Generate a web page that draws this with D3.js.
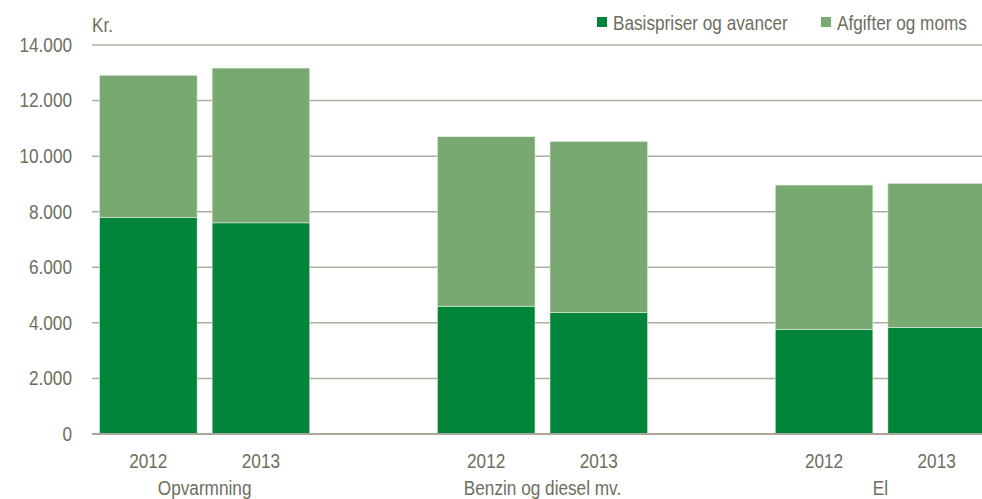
<!DOCTYPE html>
<html><head><meta charset="utf-8">
<script src="https://cdn.jsdelivr.net/npm/d3@7/dist/d3.min.js"></script>
<style>
html,body{margin:0;padding:0;background:#fff;}
text{font-family:"Liberation Sans",Arial,sans-serif;fill:#6e6e5e;}
</style></head>
<body><svg id="c" width="982" height="499"></svg>
<script>
const categories = ["Opvarmning", "Benzin og diesel mv.", "El"];
const years = ["2012", "2013"];
const basis = [7800, 7600, 4600, 4370, 3770, 3840];
const afgifter = [5110, 5570, 6100, 6160, 5190, 5180];
const seriesNames = ["Basispriser og avancer", "Afgifter og moms"];
const yTicks = [0, 2000, 4000, 6000, 8000, 10000, 12000, 14000];
const colors = ["#00853a", "#78a970"];

const svg = d3.select("#c");
const W = 982, H = 499;
const pLeft = 92, pRight = 993, pTop = 45, pBottom = 434;
const squeeze = 0.86;

// slots: each category has 2 years plus an empty spacer slot
const slots = [];
categories.forEach((c, ci) => {
  years.forEach(y => slots.push(c + "|" + y));
  if (ci < categories.length - 1) slots.push("gap" + ci);
});
const x = d3.scaleBand().domain(slots).range([pLeft, pRight]).paddingInner(0.133).paddingOuter(0.0665);
const y = d3.scaleLinear().domain([0, 14000]).range([pBottom, pTop]);

const loc = d3.formatLocale({decimal: ",", thousands: ".", grouping: [3], currency: ["", ""]});
const fmt = loc.format(",");

// gridlines
svg.append("g").selectAll("line").data(yTicks.filter(d => d > 0)).join("line")
  .attr("x1", pLeft).attr("x2", W).attr("y1", d => y(d)).attr("y2", d => y(d))
  .attr("stroke", "#b0ada0").attr("stroke-width", 1.5);

// y axis labels
const yAxis = svg.append("g").attr("transform", `translate(${pLeft},0)`)
  .call(d3.axisLeft(y).tickValues(yTicks).tickFormat(fmt).tickSize(0).tickPadding(20));
yAxis.select(".domain").remove();
yAxis.attr("font-family", null).attr("font-size", null);
yAxis.selectAll("text").style("font-size", "20px").attr("fill", null);

// data
const rows = [];
categories.forEach((c, ci) => years.forEach((yr, yi) => {
  const i = ci * 2 + yi;
  rows.push({key: c + "|" + yr, year: yr, cat: c, b: basis[i], a: afgifter[i]});
}));
const stack = d3.stack().keys(["b", "a"])(rows);

svg.append("g").selectAll("g").data(stack).join("g")
  .attr("fill", (d, i) => colors[i])
  .selectAll("rect").data(d => d).join("rect")
  .attr("x", d => x(d.data.key)).attr("width", x.bandwidth())
  .attr("y", d => y(d[1])).attr("height", d => y(d[0]) - y(d[1]))
  .attr("stroke", "#e6eee4").attr("stroke-width", 0.6);

// baseline
svg.append("line").attr("x1", pLeft).attr("x2", W).attr("y1", y(0)).attr("y2", y(0))
  .attr("stroke", "#aaa79a").attr("stroke-width", 2);

// year labels
svg.append("g").selectAll("text").data(rows).join("text")
  .attr("x", d => x(d.key) + x.bandwidth() / 2).attr("y", 468)
  .attr("text-anchor", "middle").style("font-size", "20px").text(d => d.year);

// category labels
svg.append("g").selectAll("text").data(categories).join("text")
  .attr("x", c => (x(c + "|" + years[0]) + x(c + "|" + years[1]) + x.bandwidth()) / 2)
  .attr("y", 495).attr("text-anchor", "middle").style("font-size", "20px").text(c => c);

// unit label
svg.append("text").attr("x", pLeft).attr("y", 32).style("font-size", "20px").text("Kr.");

// condensed look (narrow typeface) for axis texts
svg.selectAll("text").each(function() {
  const w = this.getComputedTextLength();
  d3.select(this).attr("textLength", w * squeeze).attr("lengthAdjust", "spacingAndGlyphs");
});

// legend (condensed via horizontal scale)
const legX = [597, 821];
seriesNames.forEach((n, i) => {
  svg.append("rect").attr("x", legX[i]).attr("y", 17).attr("width", 10).attr("height", 10).attr("fill", colors[i]);
  svg.append("g").attr("transform", `translate(${legX[i] + 16},30) scale(${squeeze},1)`)
    .append("text").attr("x", 0).attr("y", 0).style("font-size", "20px").text(n);
});
</script></body></html>
